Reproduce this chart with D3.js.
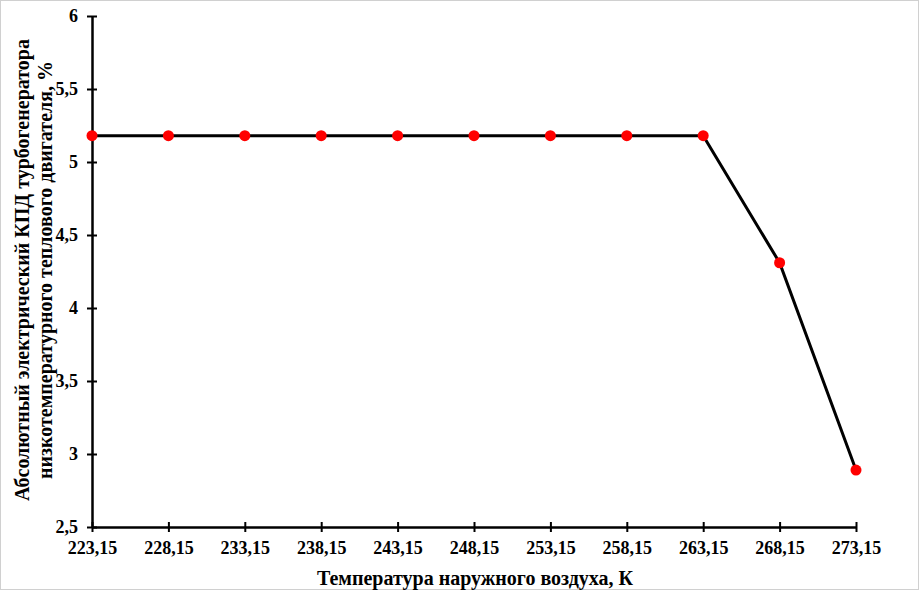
<!DOCTYPE html>
<html><head><meta charset="utf-8">
<script src="https://cdn.jsdelivr.net/npm/d3@7"></script>
<style>body{margin:0;background:#fff}svg{display:block}</style>
</head><body>
<script>
const categories = ["223,15","228,15","233,15","238,15","243,15","248,15","253,15","258,15","263,15","268,15","273,15"];
const values = [5.18,5.18,5.18,5.18,5.18,5.18,5.18,5.18,5.18,4.31,2.89];
const yTicks = [2.5,3,3.5,4,4.5,5,5.5,6];
const yTickLabels = ["2,5","3","3,5","4","4,5","5","5,5","6"];
const xTitle = "Температура наружного воздуха, К";
const yTitle = ["Абсолютный электрический КПД турбогенератора","низкотемпературного теплового двигателя, %"];

const W=919,H=590;
const svg=d3.select("body").append("svg").attr("width",W).attr("height",H);
svg.append("rect").attr("x",0.5).attr("y",0.5).attr("width",W-1).attr("height",H-1).attr("fill","#fff").attr("stroke","#d0d0d0");
const font="'Liberation Serif','Times New Roman',serif";
const x=d3.scalePoint().domain(categories).range([92,856]);
const y=d3.scaleLinear().domain([2.5,6]).range([527,16]);

const xa=svg.append("g").attr("transform","translate(0,527)")
 .call(d3.axisBottom(x).tickSizeInner(5).tickSizeOuter(0).tickPadding(9));
xa.selectAll(".tick line").attr("y1",-5);
const ya=svg.append("g").attr("transform","translate(92,0)")
 .call(d3.axisLeft(y).tickValues(yTicks).tickFormat((d,i)=>yTickLabels[i]).tickSizeInner(5).tickSizeOuter(0).tickPadding(9));
ya.selectAll(".tick line").attr("x1",5);
[xa,ya].forEach(a=>{
 a.select(".domain").attr("stroke","#000").attr("stroke-width",2.5);
 a.selectAll(".tick line").attr("stroke","#000").attr("stroke-width",2);
 a.selectAll("text").attr("font-family",font).attr("font-weight","bold").attr("font-size",18).attr("fill","#000");
});

svg.append("path").datum(values)
 .attr("d",d3.line().x((d,i)=>x(categories[i])).y(d=>y(d)))
 .attr("fill","none").attr("stroke","#000").attr("stroke-width",3);
svg.selectAll("circle.pt").data(values).enter().append("circle")
 .attr("cx",(d,i)=>x(categories[i])).attr("cy",d=>y(d)).attr("r",5.5).attr("fill","#ff0000");

svg.append("text").attr("x",475).attr("y",585).attr("text-anchor","middle")
 .attr("font-family",font).attr("font-weight","bold").attr("font-size",20).text(xTitle);
const yt=svg.append("text").attr("transform","translate(0,270) rotate(-90)").attr("text-anchor","middle")
 .attr("font-family",font).attr("font-weight","bold").attr("font-size",20);
yt.append("tspan").attr("x",0).attr("y",29).text(yTitle[0]);
yt.append("tspan").attr("x",0).attr("y",52).text(yTitle[1]);
</script>
</body></html>
